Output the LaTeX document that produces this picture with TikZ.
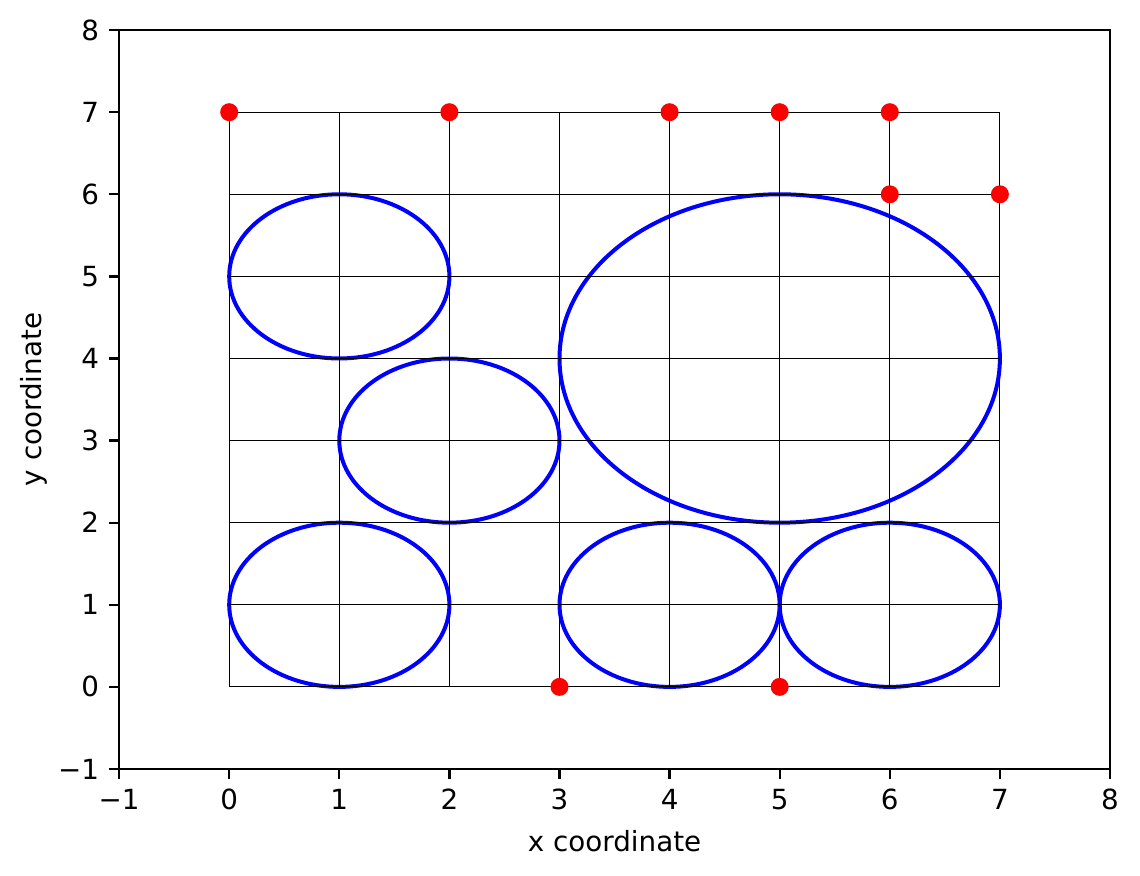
\documentclass[tikz,border=0pt]{standalone}
\usepackage{fontspec}
\setmainfont{DejaVu Sans}
\begin{document}
\begin{tikzpicture}[x=44.04pt,y=32.84pt,
  gridline/.style={black,line width=0.38pt},
  ell/.style={blue,line width=1.6pt},
  dot/.style={circle,fill=red,draw=none,inner sep=0pt,minimum size=7.2pt},
  frame/.style={black,line width=0.89pt},
  tick/.style={black,line width=0.89pt},
  ticklab/.style={font=\fontsize{11.1}{13}\selectfont,inner sep=0pt},
  axlab/.style={font=\fontsize{11.1}{13}\selectfont,inner sep=0pt}]
\useasboundingbox (-91.68pt,-75.64pt) rectangle (364.32pt,274.76pt);
% ellipses
\draw[ell] (1,5) ellipse [x radius=44.04pt, y radius=32.84pt];
\draw[ell] (2,3) ellipse [x radius=44.04pt, y radius=32.84pt];
\draw[ell] (1,1) ellipse [x radius=44.04pt, y radius=32.84pt];
\draw[ell] (4,1) ellipse [x radius=44.04pt, y radius=32.84pt];
\draw[ell] (6,1) ellipse [x radius=44.04pt, y radius=32.84pt];
\draw[ell] (5,4) ellipse [x radius=88.08pt, y radius=65.68pt];
% grid
\foreach \k in {0,...,7}{
  \draw[gridline] (\k,0) -- (\k,7);
  \draw[gridline] (0,\k) -- (7,\k);
}
% dots
\foreach \p/\n in {{(0,7)}/a,{(2,7)}/b,{(4,7)}/c,{(5,7)}/d,{(6,7)}/e,{(6,6)}/f,{(7,6)}/g,{(3,0)}/h,{(5,0)}/i}
  \node[dot] (dot\n) at \p {};
% frame
\draw[frame] (-1,-1) rectangle (8,8);
% ticks and labels
\foreach \v/\t in {-1/{−1},0/0,1/1,2/2,3/3,4/4,5/5,6/6,7/7,8/8}{
  \draw[tick] (\v,-1) -- ++(0,-3.9pt);
  \node[ticklab,anchor=north] (xt\v) at ([yshift=-7.8pt]\v,-1) {\t};
  \draw[tick] (-1,\v) -- ++(-3.9pt,0);
  \node[ticklab,anchor=east] (yt\v) at ([xshift=-7.8pt]-1,\v) {\t};
}
\node[axlab] (xlab) at (3.5,-1.88) {x coordinate};
\node[axlab,rotate=90] (ylab) at (-1.77,3.5) {y coordinate};
\end{tikzpicture}
\end{document}
